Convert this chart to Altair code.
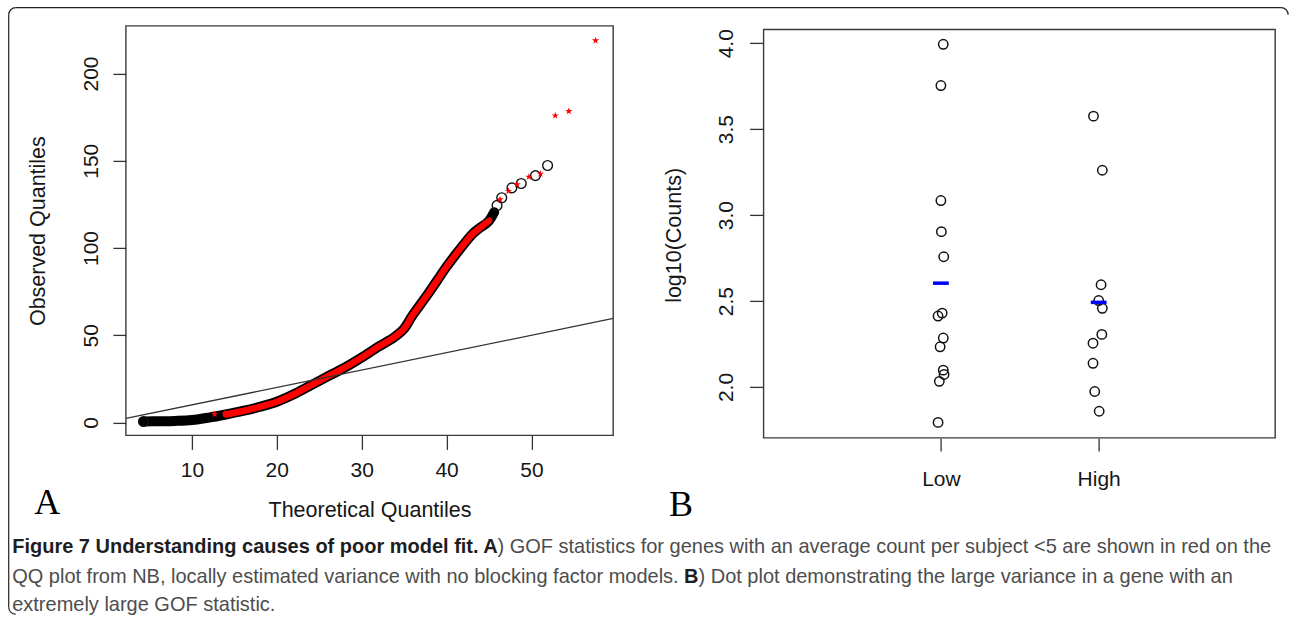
import math
import altair as alt
import pandas as pd

# ---------------- Panel A: QQ plot of GOF statistics ----------------
# dense run of quantile points (all genes, black circles)
band_x = [4.3, 6, 8, 10, 12, 14, 16, 18, 20, 22, 24, 26, 28, 30, 32, 34, 35,
          36, 37, 38, 39, 40, 41, 42, 43, 44, 45, 45.6]
band_y = [0.6, 0.7, 0.9, 1.4, 2.8, 4.6, 6.6, 9.0, 11.9, 16.2, 21.3, 26.4, 31.4,
          37.2, 43.5, 49.5, 53.8, 61.5, 68.2, 75.0, 82.2, 89.3, 95.8, 102.0,
          107.8, 111.8, 115.6, 120.5]
# genes with average count per subject < 5 cover the run from here on (red)
red_from, red_to = 14, 45

# isolated circles at both ends of the run
circ_x = [4.3, 45.95, 46.5, 47.7, 48.8, 50.47, 51.9]
circ_y = [0.6, 124.4, 128.8, 134.5, 137.0, 141.5, 147.3]
# isolated red stars
star_x = [12.67, 13.93, 46.3, 47.3, 48.3, 49.7, 51.06, 52.8, 54.4, 57.55]
star_y = [4.75, 5.5, 127.8, 132.6, 136.4, 140.8, 142.5, 175.9, 178.4, 218.9]

# reference line
qq_intercept, qq_slope = 0.1, 0.998

a_xticks = [10, 20, 30, 40, 50]
a_yticks = [0, 50, 100, 150, 200]
a_xdomain = [2.225, 59.63]
a_ydomain = [-7.39, 227.3]

# ---------------- Panel B: dot plot for one gene ----------------
categories = ["Low", "High"]
low_values = [3.994, 3.754, 3.085, 2.904, 2.758, 2.430, 2.413, 2.285, 2.234,
              2.098, 2.073, 2.033, 1.794]
low_jitter = [0.015, 0.0, 0.0, 0.003, 0.018, 0.008, -0.018, 0.015, -0.005,
              0.015, 0.020, -0.010, -0.018]
high_values = [3.576, 3.261, 2.595, 2.503, 2.458, 2.306, 2.255, 2.138, 1.974,
               1.859]
high_jitter = [-0.033, 0.023, 0.015, 0.0, 0.023, 0.020, -0.036, -0.036,
               -0.025, 0.003]
b_yticks = [2.0, 2.5, 3.0, 3.5, 4.0]
b_xdomain = [-0.1236, 3.1185]
b_ydomain = [1.704, 4.101]

caption_bold_1 = "Figure 7 Understanding causes of poor model fit. A"
caption_rest_1 = ") GOF statistics for genes with an average count per subject <5 are shown in red on the"
caption_line_2a = "QQ plot from NB, locally estimated variance with no blocking factor models."
caption_bold_2 = "B"
caption_line_2b = ") Dot plot demonstrating the large variance in a gene with an"
caption_line_3 = "extremely large GOF statistic."

# ---------------- layout constants (pixels) ----------------
A_W, A_H = 487.3, 409.5
B_W, B_H = 511.6, 412.0
B_TOP = 3.6          # panel B frame starts slightly lower
A_OX, A_OY = 125.7, 25.7
B_OX, B_OY = 762.7, 25.7
SANS = "Liberation Sans"
STAR = ("M0,-1L0.2245,-0.309L0.9511,-0.309L0.3633,0.118L0.5878,0.809L0,0.382"
        "L-0.5878,0.809L-0.3633,0.118L-0.9511,-0.309L-0.2245,-0.309Z")

one = pd.DataFrame({"k": [0]})


def ax(xp):
    return xp - A_OX


def ay(yp):
    return yp - A_OY


def bx(xp):
    return xp - B_OX


def by(yp):
    return yp - B_OY


def text_at(t, x, y, size, font=SANS, weight="normal", color="#111", align="left"):
    return alt.Chart(one).mark_text(
        text=t, fontSize=size, font=font, fontWeight=weight, color=color,
        align=align, baseline="middle"
    ).encode(x=alt.value(x), y=alt.value(y))


# ---------- panel A ----------
a_x = alt.X("x:Q", scale=alt.Scale(domain=a_xdomain, nice=False, zero=False),
            axis=alt.Axis(values=a_xticks, title="Theoretical Quantiles",
                          tickSize=14, labelPadding=21, labelBaseline="middle",
                          labelAlign="center", titleX=A_W / 2, titleY=74.8,
                          titleBaseline="middle", titleAlign="center"))
a_y = alt.Y("y:Q", scale=alt.Scale(domain=a_ydomain, nice=False, zero=False),
            axis=alt.Axis(values=a_yticks, title="Observed Quantiles",
                          tickSize=13, labelAngle=270, labelAlign="center",
                          labelBaseline="middle", labelPadding=21.5,
                          titleAngle=270, titleX=-87.7, titleY=A_H / 2,
                          titleBaseline="middle", titleAlign="center"))

band = pd.DataFrame({"x": band_x, "y": band_y})
red_band = band[(band.x >= red_from) & (band.x <= red_to)]
circles = pd.DataFrame({"x": circ_x, "y": circ_y})
stars = pd.DataFrame({"x": star_x, "y": star_y})
qq_line = pd.DataFrame({"x": a_xdomain})

a_frame = alt.Chart(one).mark_rect(fillOpacity=0, stroke="#3a3a3a", strokeWidth=1.4).encode(
    x=alt.value(0), x2=alt.value(A_W), y=alt.value(0), y2=alt.value(A_H))
a_black = alt.Chart(band).mark_line(color="#000", strokeWidth=10, strokeCap="round",
                                    strokeJoin="round", interpolate="monotone").encode(x=a_x, y=a_y)
a_red = alt.Chart(red_band).mark_line(color="#ff0000", strokeWidth=6.5, strokeCap="round",
                                      strokeJoin="round", interpolate="monotone").encode(x=a_x, y=a_y)
a_circ = alt.Chart(circles).mark_point(shape="circle", filled=False, color="#111",
                                       size=95, strokeWidth=1.4, opacity=1).encode(x=a_x, y=a_y)
a_star = alt.Chart(stars).mark_point(shape=STAR, filled=True, color="#ff0000",
                                     size=60, opacity=1).encode(x=a_x, y=a_y)
a_line = alt.Chart(qq_line).transform_calculate(
    y=f"{qq_intercept} + {qq_slope} * datum.x"
).mark_line(color="#333", strokeWidth=1.3, clip=True).encode(x=a_x, y=a_y)

# outer rounded border of the figure (top and left edges)
bw = 1.2
R = 7
border = [
    alt.Chart(one).mark_rule(color="#222", strokeWidth=bw).encode(
        x=alt.value(ax(8.5 + R)), x2=alt.value(ax(1281)), y=alt.value(ay(7.5)), y2=alt.value(ay(7.5))),
    alt.Chart(one).mark_rule(color="#222", strokeWidth=bw).encode(
        x=alt.value(ax(8.5)), x2=alt.value(ax(8.5)), y=alt.value(ay(7.5 + R)), y2=alt.value(ay(607))),
    alt.Chart(one).mark_arc(innerRadius=R - bw / 2, outerRadius=R + bw / 2,
                            theta=3 * math.pi / 2, theta2=2 * math.pi, color="#222").encode(
        x=alt.value(ax(8.5 + R)), y=alt.value(ay(7.5 + R))),
    alt.Chart(one).mark_arc(innerRadius=R - bw / 2, outerRadius=R + bw / 2,
                            theta=0, theta2=math.pi / 2, color="#222").encode(
        x=alt.value(ax(1281)), y=alt.value(ay(7.5 + R))),
    alt.Chart(one).mark_arc(innerRadius=R - bw / 2, outerRadius=R + bw / 2,
                            theta=math.pi, theta2=3 * math.pi / 2, color="#222").encode(
        x=alt.value(ax(8.5 + R)), y=alt.value(ay(607))),
]

# caption: bold and regular runs placed one after another
# (run widths of Liberation Sans at 19 px: 461, 633, 507 px)
cap_size = 20
k = cap_size / 19
cap_dark, cap_grey = "#1e1e1e", "#4d4d4d"
x_rest_1 = 12 + 461 * k
x_b_2 = 12 + 633 * k + 0.278 * cap_size
x_rest_2 = x_b_2 + 0.722 * cap_size
caption = [
    text_at(caption_bold_1, ax(12), ay(547), cap_size, SANS, "bold", cap_dark),
    text_at(caption_rest_1, ax(x_rest_1), ay(547), cap_size, SANS, "normal", cap_grey),
    text_at(caption_line_2a, ax(12), ay(577), cap_size, SANS, "normal", cap_grey),
    text_at(caption_bold_2, ax(x_b_2), ay(577), cap_size, SANS, "bold", cap_dark),
    text_at(caption_line_2b, ax(x_rest_2), ay(577), cap_size, SANS, "normal", cap_grey),
    text_at(caption_line_3, ax(12), ay(605), cap_size, SANS, "normal", cap_grey),
]

letter_a = text_at("A", ax(47), ay(503), 36, "Liberation Serif", "normal", "#000", "center")

panel_a = alt.layer(
    a_frame, a_black, a_red, a_circ, a_star, a_line, letter_a, *border, *caption
).properties(width=A_W, height=A_H)

# ---------- panel B ----------
dots = pd.concat([
    pd.DataFrame({"group": categories[0], "value": low_values, "jit": low_jitter}),
    pd.DataFrame({"group": categories[1], "value": high_values, "jit": high_jitter}),
], ignore_index=True)
idx_expr = " : ".join([f"datum.group == '{c}' ? {i + 1}" for i, c in enumerate(categories)]) + " : 0"
label_expr = " : ".join([f"datum.value == {i + 1} ? '{c}'" for i, c in enumerate(categories)]) + " : ''"

b_x = alt.X("pos:Q", scale=alt.Scale(domain=b_xdomain, nice=False, zero=False),
            axis=alt.Axis(values=[1, 2], labelExpr=label_expr, title=None,
                          tickSize=13, labelPadding=29, labelBaseline="middle",
                          labelAlign="center"))
b_y = alt.Y("value:Q", scale=alt.Scale(domain=b_ydomain, nice=False, zero=False),
            axis=alt.Axis(values=b_yticks, format=".1f", title="log10(Counts)",
                          tickSize=14, labelAngle=270, labelAlign="center",
                          labelBaseline="middle", labelPadding=23.5,
                          titleAngle=270, titleX=-88.7, titleY=209,
                          titleBaseline="middle", titleAlign="center"))

b_frame = alt.Chart(one).mark_rect(fillOpacity=0, stroke="#3a3a3a", strokeWidth=1.4).encode(
    x=alt.value(0), x2=alt.value(B_W), y=alt.value(B_TOP), y2=alt.value(B_H))
b_pts = alt.Chart(dots).transform_calculate(
    pos=f"({idx_expr}) + datum.jit"
).mark_point(shape="circle", filled=False, color="#111", size=88, strokeWidth=1.5,
             opacity=1).encode(x=b_x, y=b_y)
b_mean = alt.Chart(dots).transform_aggregate(
    value="mean(value)", groupby=["group"]
).transform_calculate(
    pos=f"({idx_expr}) - 0.05", pos2=f"({idx_expr}) + 0.05"
).mark_rule(color="#0000ff", strokeWidth=3.5).encode(
    x=b_x, x2="pos2:Q", y=b_y)

letter_b = text_at("B", bx(680), by(505), 36, "Liberation Serif", "normal", "#000", "center")

panel_b = alt.layer(b_frame, b_pts, b_mean, letter_b).properties(width=B_W, height=B_H)

chart = alt.hconcat(panel_a, panel_b, spacing=B_OX - A_OX - A_W, bounds="flush").properties(
    padding={"left": 7.9, "top": 6.9, "right": 0, "bottom": 0},
    background="white",
).configure_view(strokeWidth=0).configure_axis(
    grid=False, domain=False, tickColor="#333", tickWidth=1.3,
    labelFont=SANS, titleFont=SANS, labelFontSize=21, titleFontSize=21.5,
    labelColor="#161616", titleColor="#161616", titleFontWeight="normal",
    labelOverlap=False, labelFlush=False,
)

chart.save("out.html", embed_options={"renderer": "svg", "actions": False})
